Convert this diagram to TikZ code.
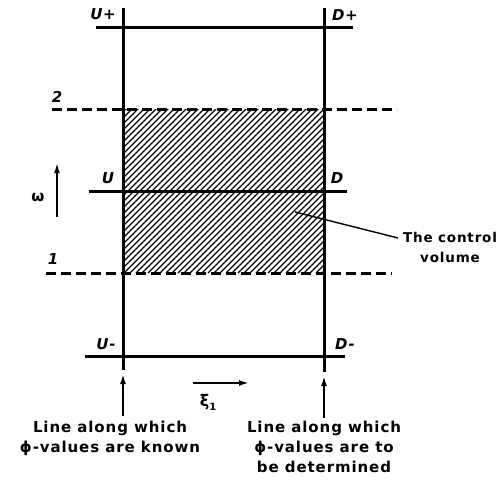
\documentclass[tikz,border=0pt]{standalone}
\usepackage{fontspec}
\usetikzlibrary{arrows.meta}
\setmainfont{DejaVu Sans}
\newfontfamily\lbl[LetterSpace=6]{DejaVu Sans Bold}
\newfontfamily\ital[LetterSpace=4]{DejaVu Sans Bold Oblique}
\newfontfamily\grk{DejaVu Sans Bold}
\begin{document}
\begin{tikzpicture}[x=1pt,y=-1pt,
  solidline/.style={line width=3pt},
  dashline/.style={line width=3pt, dash pattern=on 10pt off 5pt},
  hatch/.style={line width=1.3pt},
  lab/.style={font=\ital\fontsize{15}{15}\selectfont, inner sep=0pt},
  txt/.style={font=\lbl\fontsize{13.5}{20}\selectfont, align=center, inner sep=0pt},
  btxt/.style={font=\lbl\fontsize{15}{20}\selectfont, align=center, inner sep=0pt},
  arr/.style={line width=1.8pt, -{Latex[length=10pt,width=6pt]}}]
\useasboundingbox (0,0) rectangle (500,482);
% hatched control volume
\begin{scope}
  \clip (123,109) rectangle (324,273);
  \foreach \i in {-200,-194,...,400} {
    \draw[hatch] (\i,273) -- ++(170,-170);
  }
\end{scope}
% vertical lines
\coordinate (Ltop) at (123,8);
\coordinate (Lbot) at (123,370);
\coordinate (Rtop) at (324,8);
\coordinate (Rbot) at (324,372);
\draw[solidline] (Ltop) -- (Lbot);
\draw[solidline] (Rtop) -- (Rbot);
% horizontal lines
\coordinate (Upa) at (96,27);  \coordinate (Upb) at (353,27);
\coordinate (A2a) at (52,109); \coordinate (A2b) at (397,109);
\coordinate (Ua) at (89,191);  \coordinate (Ub) at (347,191);
\coordinate (A1a) at (46,273); \coordinate (A1b) at (392,273);
\coordinate (Uma) at (85,356); \coordinate (Umb) at (345,356);
\draw[solidline] (Upa) -- (Upb);
\draw[dashline] (A2a) -- (A2b);
\draw[solidline] (Ua) -- (Ub);
\draw[dashline] (A1a) -- (A1b);
\draw[solidline] (Uma) -- (Umb);
% labels
\node[lab] (lUp) at (103,14) {U+};
\node[lab] (lDp) at (345,15) {D+};
\node[lab] (l2) at (57,97) {2};
\node[lab] (lU) at (108,178) {U};
\node[lab] (lD) at (337,178) {D};
\node[lab] (l1) at (53,259) {1};
\node[lab] (lUm) at (106,344) {U-};
\node[lab] (lDm) at (345,344) {D-};
% omega arrow
\coordinate (wa) at (57,217); \coordinate (wb) at (57,163);
\draw[arr] (wa) -- (wb);
\node[inner sep=0pt, font=\grk\fontsize{15}{15}\selectfont] (w) at (38,197) {ω};
% xi arrow
\coordinate (xa) at (193,383); \coordinate (xb) at (249,383);
\draw[arr] (xa) -- (xb);
\node[inner sep=0pt, font=\grk\fontsize{16}{16}\selectfont] (xi) at (208,402) {ξ\raisebox{-4pt}{\fontsize{10}{10}\selectfont 1}};
% bottom arrows and texts
\node[btxt, anchor=north] (tl) at (110,421) {Line along which\\ϕ-values are known};
\node[btxt, anchor=north] (tr) at (324,421) {Line along which\\ϕ-values are to\\be determined};
\coordinate (la) at (123,416); \coordinate (lb) at (123,374);
\coordinate (ra) at (324,418); \coordinate (rb) at (324,376);
\draw[arr] (la) -- (lb);
\draw[arr] (ra) -- (rb);
% control volume label
\node[txt, anchor=north] (cv) at (450,232) {The control\\volume};
\coordinate (cvp) at (295,212);
\draw[line width=1.4pt] (cvp) -- (398,238);
\end{tikzpicture}
\end{document}
